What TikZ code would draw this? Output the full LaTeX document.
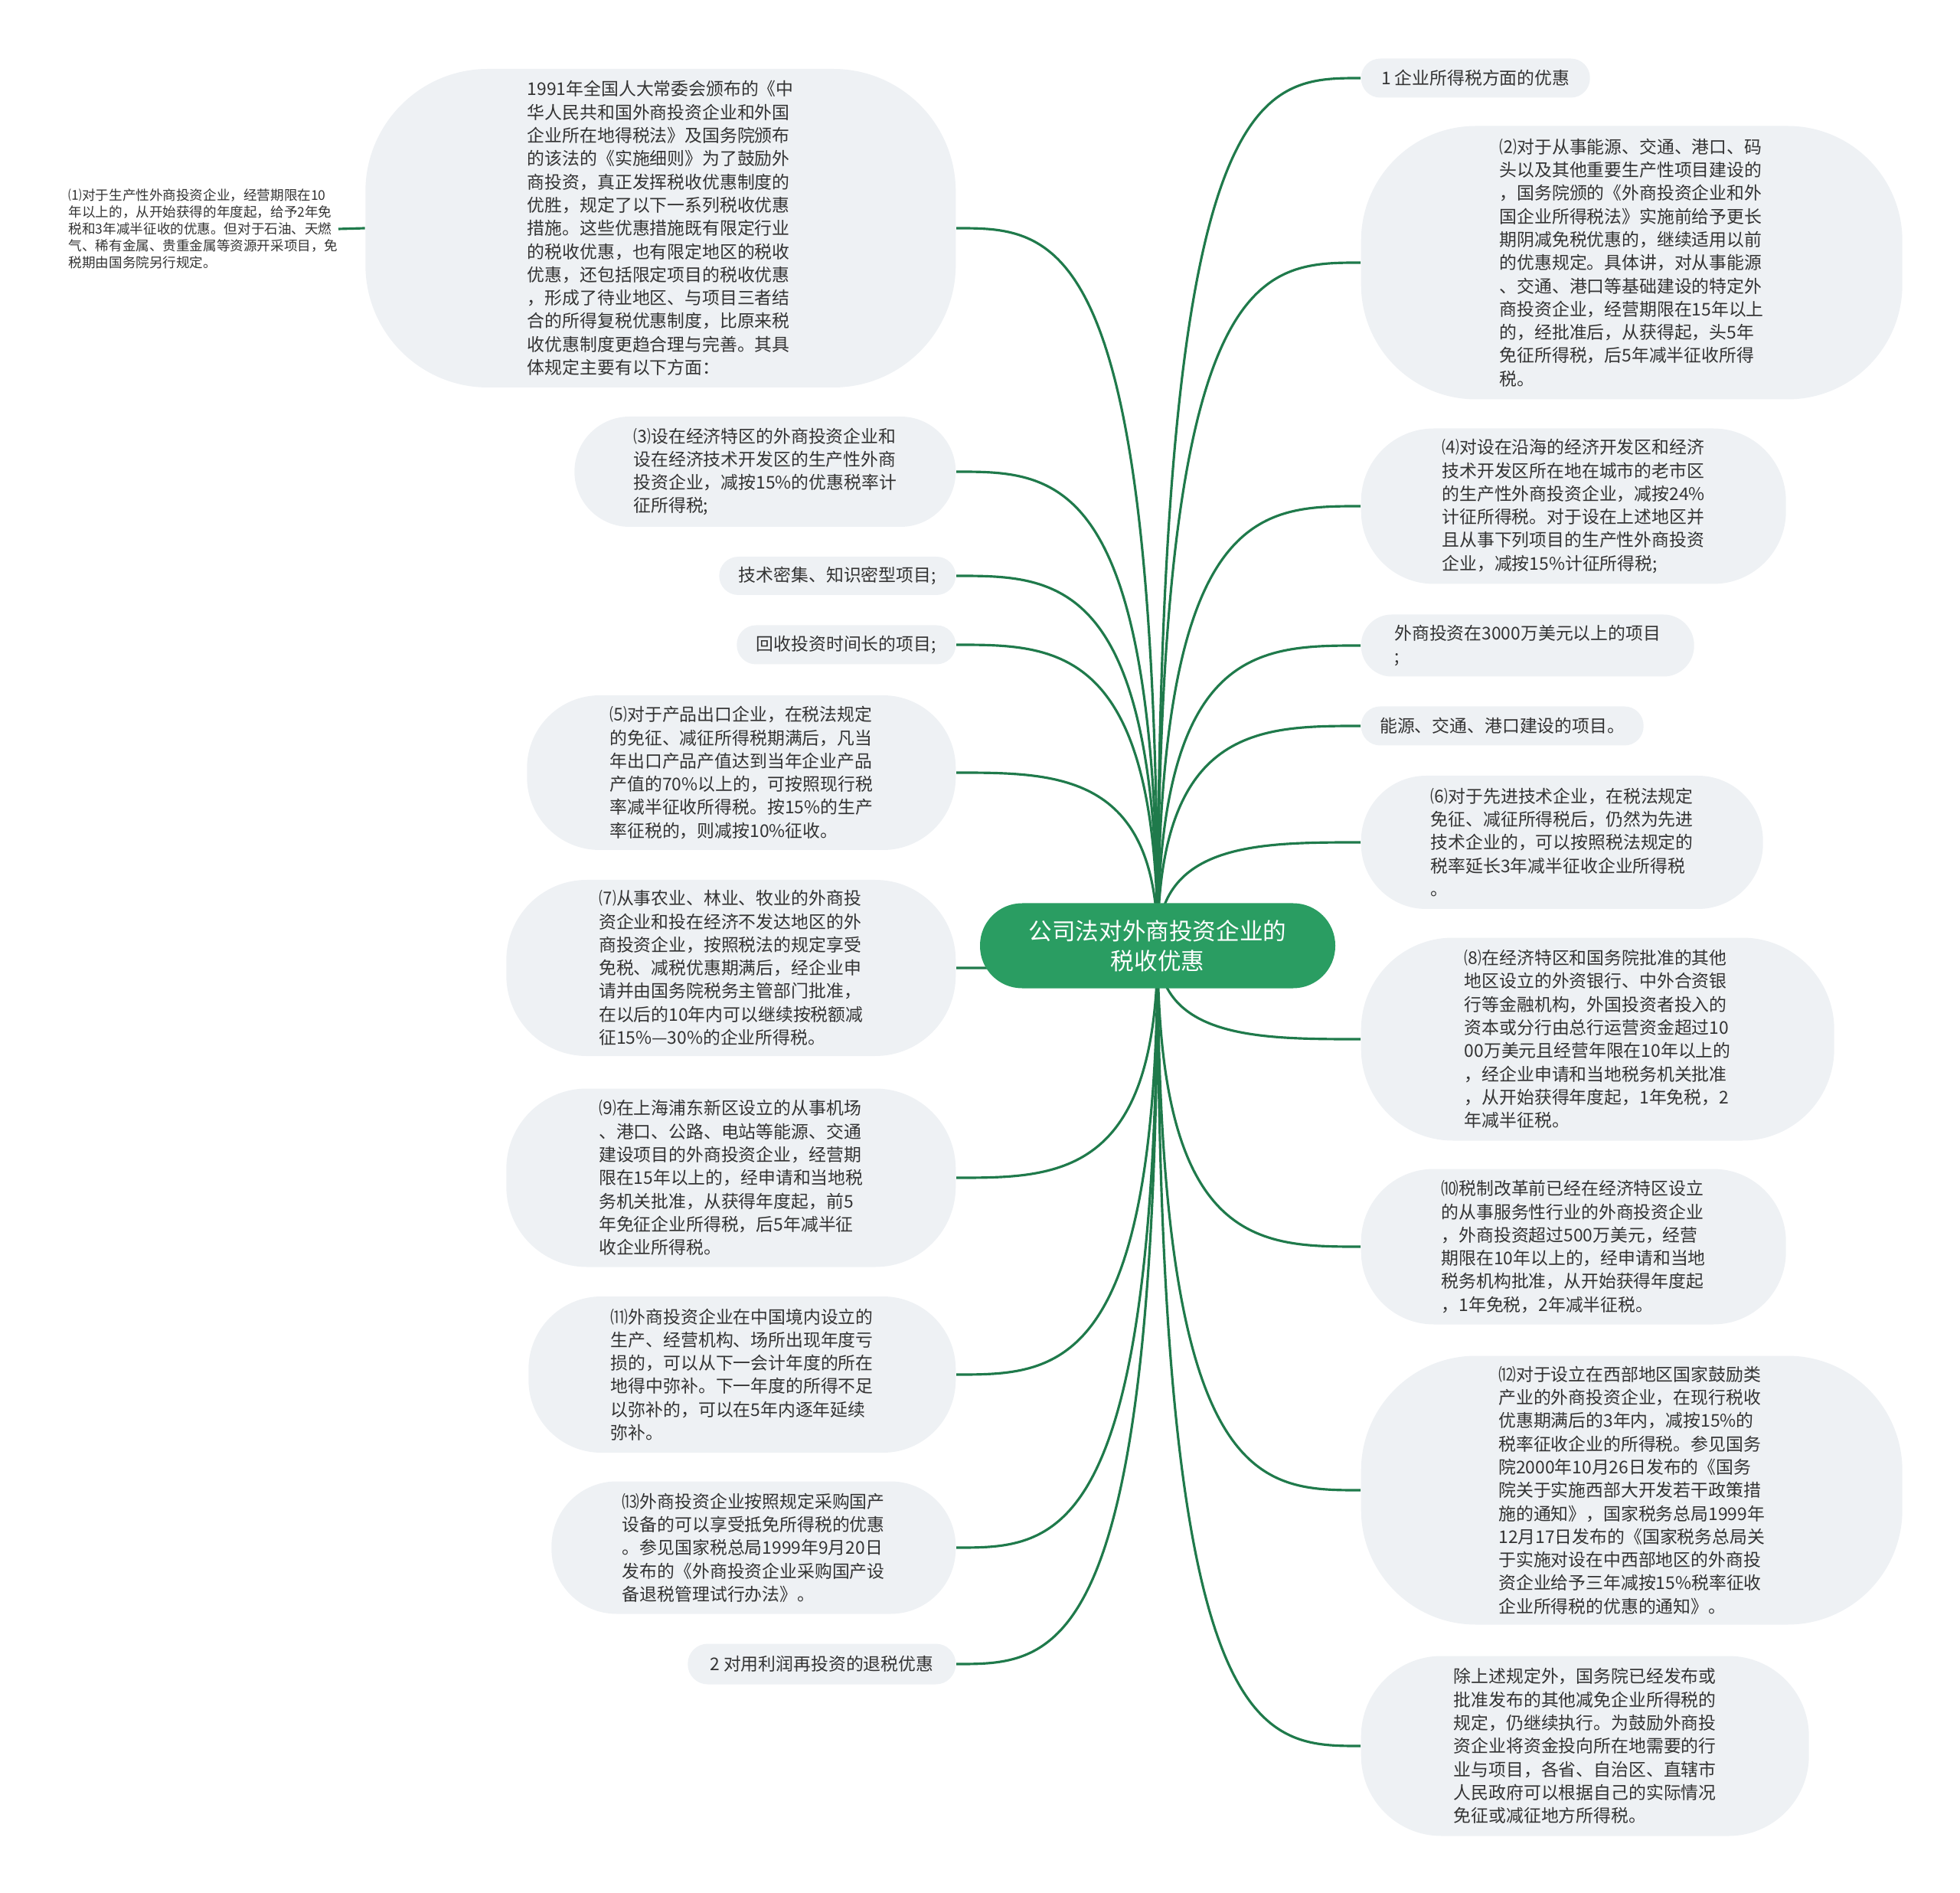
\documentclass[tikz,border=0pt]{standalone}
\usepackage{fontspec}
\setmainfont{Noto Sans CJK SC}
\usepackage{tikz}
\usetikzlibrary{calc,backgrounds}
\definecolor{leafbg}{HTML}{EEF1F4}
\definecolor{ink}{HTML}{333333}
\definecolor{hubgreen}{HTML}{2A9D62}
\definecolor{linkgreen}{HTML}{1F7A4B}
\newcommand{\leaffnt}{\fontsize{6.5pt}{8.62pt}\selectfont}
\newcommand{\notefnt}{\fontsize{5pt}{6.3pt}\selectfont}
\newcommand{\hubfnt}{\fontsize{8.7pt}{11.1pt}\selectfont}
\tikzset{
  leaf/.style={fill=leafbg,rounded corners=#1,inner sep=0pt,align=left,text=ink,font=\leaffnt},
  leaf/.default=0.25cm,
  hubbox/.style={fill=hubgreen,rounded corners=0.55cm,inner sep=0pt,align=center,text=white,font=\hubfnt,minimum width=4.64cm,minimum height=1.11cm},
  note/.style={inner sep=0pt,align=left,text=ink,font=\notefnt},
  link/.style={draw=linkgreen,line width=0.9pt},
  branch/.style={link,to path={.. controls (\tikztostart |- \tikztotarget) and ($(\tikztostart |- \tikztotarget)!0.5!(\tikztotarget)$) .. (\tikztotarget)}},
}

\begin{document}
\begin{tikzpicture}[x=1cm,y=-1cm]
  \useasboundingbox (0,0) rectangle (25.6,24.72);
  \node[hubbox] (hub) at (15.12,12.35) {公司法对外商投资企业的\\税收优惠};
  % left side
  \node[leaf=1.6cm,minimum width=7.71cm,minimum height=4.16cm,anchor=east] (l0) at (12.49,2.98) {1991年全国人大常委会颁布的《中\\华人民共和国外商投资企业和外国\\企业所在地得税法》及国务院颁布\\的该法的《实施细则》为了鼓励外\\商投资，真正发挥税收优惠制度的\\优胜，规定了以下一系列税收优惠\\措施。这些优惠措施既有限定行业\\的税收优惠，也有限定地区的税收\\优惠，还包括限定项目的税收优惠\\，形成了待业地区、与项目三者结\\合的所得复税优惠制度，比原来税\\收优惠制度更趋合理与完善。其具\\体规定主要有以下方面：};
  \node[note,anchor=east] (t1) at (4.42,2.99) {⑴对于生产性外商投资企业，经营期限在10\\年以上的，从开始获得的年度起，给予2年免\\税和3年减半征收的优惠。但对于石油、天燃\\气、稀有金属、贵重金属等资源开采项目，免\\税期由国务院另行规定。};
  \node[leaf=0.72cm,minimum width=4.98cm,minimum height=1.44cm,anchor=east] (l3) at (12.49,6.16) {⑶设在经济特区的外商投资企业和\\设在经济技术开发区的生产性外商\\投资企业，减按15\%的优惠税率计\\征所得税;};
  \node[leaf,minimum width=3.09cm,minimum height=0.5cm,anchor=east] (ltech) at (12.49,7.52) {技术密集、知识密型项目;};
  \node[leaf,minimum width=2.86cm,minimum height=0.51cm,anchor=east] (lrec) at (12.49,8.42) {回收投资时间长的项目;};
  \node[leaf=0.95cm,minimum width=5.6cm,minimum height=2.02cm,anchor=east] (l5) at (12.49,10.09) {⑸对于产品出口企业，在税法规定\\的免征、减征所得税期满后，凡当\\年出口产品产值达到当年企业产品\\产值的70\%以上的，可按照现行税\\率减半征收所得税。按15\%的生产\\率征税的，则减按10\%征收。};
  \node[leaf=1.05cm,minimum width=5.87cm,minimum height=2.3cm,anchor=east] (l7) at (12.49,12.64) {⑺从事农业、林业、牧业的外商投\\资企业和投在经济不发达地区的外\\商投资企业，按照税法的规定享受\\免税、减税优惠期满后，经企业申\\请并由国务院税务主管部门批准，\\在以后的10年内可以继续按税额减\\征15\%—30\%的企业所得税。};
  \node[leaf=1.05cm,minimum width=5.87cm,minimum height=2.33cm,anchor=east] (l9) at (12.49,15.38) {⑼在上海浦东新区设立的从事机场\\、港口、公路、电站等能源、交通\\建设项目的外商投资企业，经营期\\限在15年以上的，经申请和当地税\\务机关批准，从获得年度起，前5\\年免征企业所得税，后5年减半征\\收企业所得税。};
  \node[leaf=0.95cm,minimum width=5.58cm,minimum height=2.04cm,anchor=east] (l11) at (12.49,17.95) {⑾外商投资企业在中国境内设立的\\生产、经营机构、场所出现年度亏\\损的，可以从下一会计年度的所在\\地得中弥补。下一年度的所得不足\\以弥补的，可以在5年内逐年延续\\弥补。};
  \node[leaf=0.85cm,minimum width=5.28cm,minimum height=1.73cm,anchor=east] (l13) at (12.49,20.21) {⒀外商投资企业按照规定采购国产\\设备的可以享受抵免所得税的优惠\\。参见国家税总局1999年9月20日\\发布的《外商投资企业采购国产设\\备退税管理试行办法》。};
  \node[leaf=0.26cm,minimum width=3.5cm,minimum height=0.53cm,anchor=east] (l2) at (12.49,21.73) {2 对用利润再投资的退税优惠};
  % right side
  \node[leaf,minimum width=2.99cm,minimum height=0.51cm,anchor=west] (r1) at (17.77,1.02) {1 企业所得税方面的优惠};
  \node[leaf=1.5cm,minimum width=7.07cm,minimum height=3.57cm,anchor=west] (r2) at (17.77,3.43) {⑵对于从事能源、交通、港口、码\\头以及其他重要生产性项目建设的\\，国务院颁的《外商投资企业和外\\国企业所得税法》实施前给予更长\\期阴减免税优惠的，继续适用以前\\的优惠规定。具体讲，对从事能源\\、交通、港口等基础建设的特定外\\商投资企业，经营期限在15年以上\\的，经批准后，从获得起，头5年\\免征所得税，后5年减半征收所得\\税。};
  \node[leaf=0.95cm,minimum width=5.55cm,minimum height=2.03cm,anchor=west] (r4) at (17.77,6.61) {⑷对设在沿海的经济开发区和经济\\技术开发区所在地在城市的老市区\\的生产性外商投资企业，减按24\%\\计征所得税。对于设在上述地区并\\且从事下列项目的生产性外商投资\\企业，减按15\%计征所得税;};
  \node[leaf=0.4cm,minimum width=4.35cm,minimum height=0.81cm,anchor=west] (r30) at (17.77,8.43) {外商投资在3000万美元以上的项目\\;};
  \node[leaf,minimum width=3.69cm,minimum height=0.51cm,anchor=west] (ren) at (17.77,9.48) {能源、交通、港口建设的项目。};
  \node[leaf=0.85cm,minimum width=5.25cm,minimum height=1.74cm,anchor=west] (r6) at (17.77,11.0) {⑹对于先进技术企业，在税法规定\\免征、减征所得税后，仍然为先进\\技术企业的，可以按照税法规定的\\税率延长3年减半征收企业所得税\\。};
  \node[leaf=1.2cm,minimum width=6.18cm,minimum height=2.65cm,anchor=west] (r8) at (17.77,13.57) {⑻在经济特区和国务院批准的其他\\地区设立的外资银行、中外合资银\\行等金融机构，外国投资者投入的\\资本或分行由总行运营资金超过10\\00万美元且经营年限在10年以上的\\，经企业申请和当地税务机关批准\\，从开始获得年度起，1年免税，2\\年减半征税。};
  \node[leaf=0.95cm,minimum width=5.55cm,minimum height=2.03cm,anchor=west] (r10) at (17.77,16.28) {⑽税制改革前已经在经济特区设立\\的从事服务性行业的外商投资企业\\，外商投资超过500万美元，经营\\期限在10年以上的，经申请和当地\\税务机构批准，从开始获得年度起\\，1年免税，2年减半征税。};
  \node[leaf=1.5cm,minimum width=7.07cm,minimum height=3.51cm,anchor=west] (r12) at (17.77,19.46) {⑿对于设立在西部地区国家鼓励类\\产业的外商投资企业，在现行税收\\优惠期满后的3年内，减按15\%的\\税率征收企业的所得税。参见国务\\院2000年10月26日发布的《国务\\院关于实施西部大开发若干政策措\\施的通知》，国家税务总局1999年\\12月17日发布的《国家税务总局关\\于实施对设在中西部地区的外商投\\资企业给予三年减按15\%税率征收\\企业所得税的优惠的通知》。};
  \node[leaf=1.05cm,minimum width=5.85cm,minimum height=2.35cm,anchor=west] (rlast) at (17.77,22.8) {除上述规定外，国务院已经发布或\\批准发布的其他减免企业所得税的\\规定，仍继续执行。为鼓励外商投\\资企业将资金投向所在地需要的行\\业与项目，各省、自治区、直辖市\\人民政府可以根据自己的实际情况\\免征或减征地方所得税。};
  % connectors
  \begin{scope}[on background layer]
    \foreach \leafname in {l0,l3,ltech,lrec,l5,l7,l9,l11,l13,l2}
      \draw[branch] (hub.center) to (\leafname.east);
    \foreach \leafname in {r1,r2,r4,r30,ren,r6,r8,r10,r12,rlast}
      \draw[branch] (hub.center) to (\leafname.west);
    \draw[link] (l0.west) -- (t1.east);
  \end{scope}
\end{tikzpicture}
\end{document}
